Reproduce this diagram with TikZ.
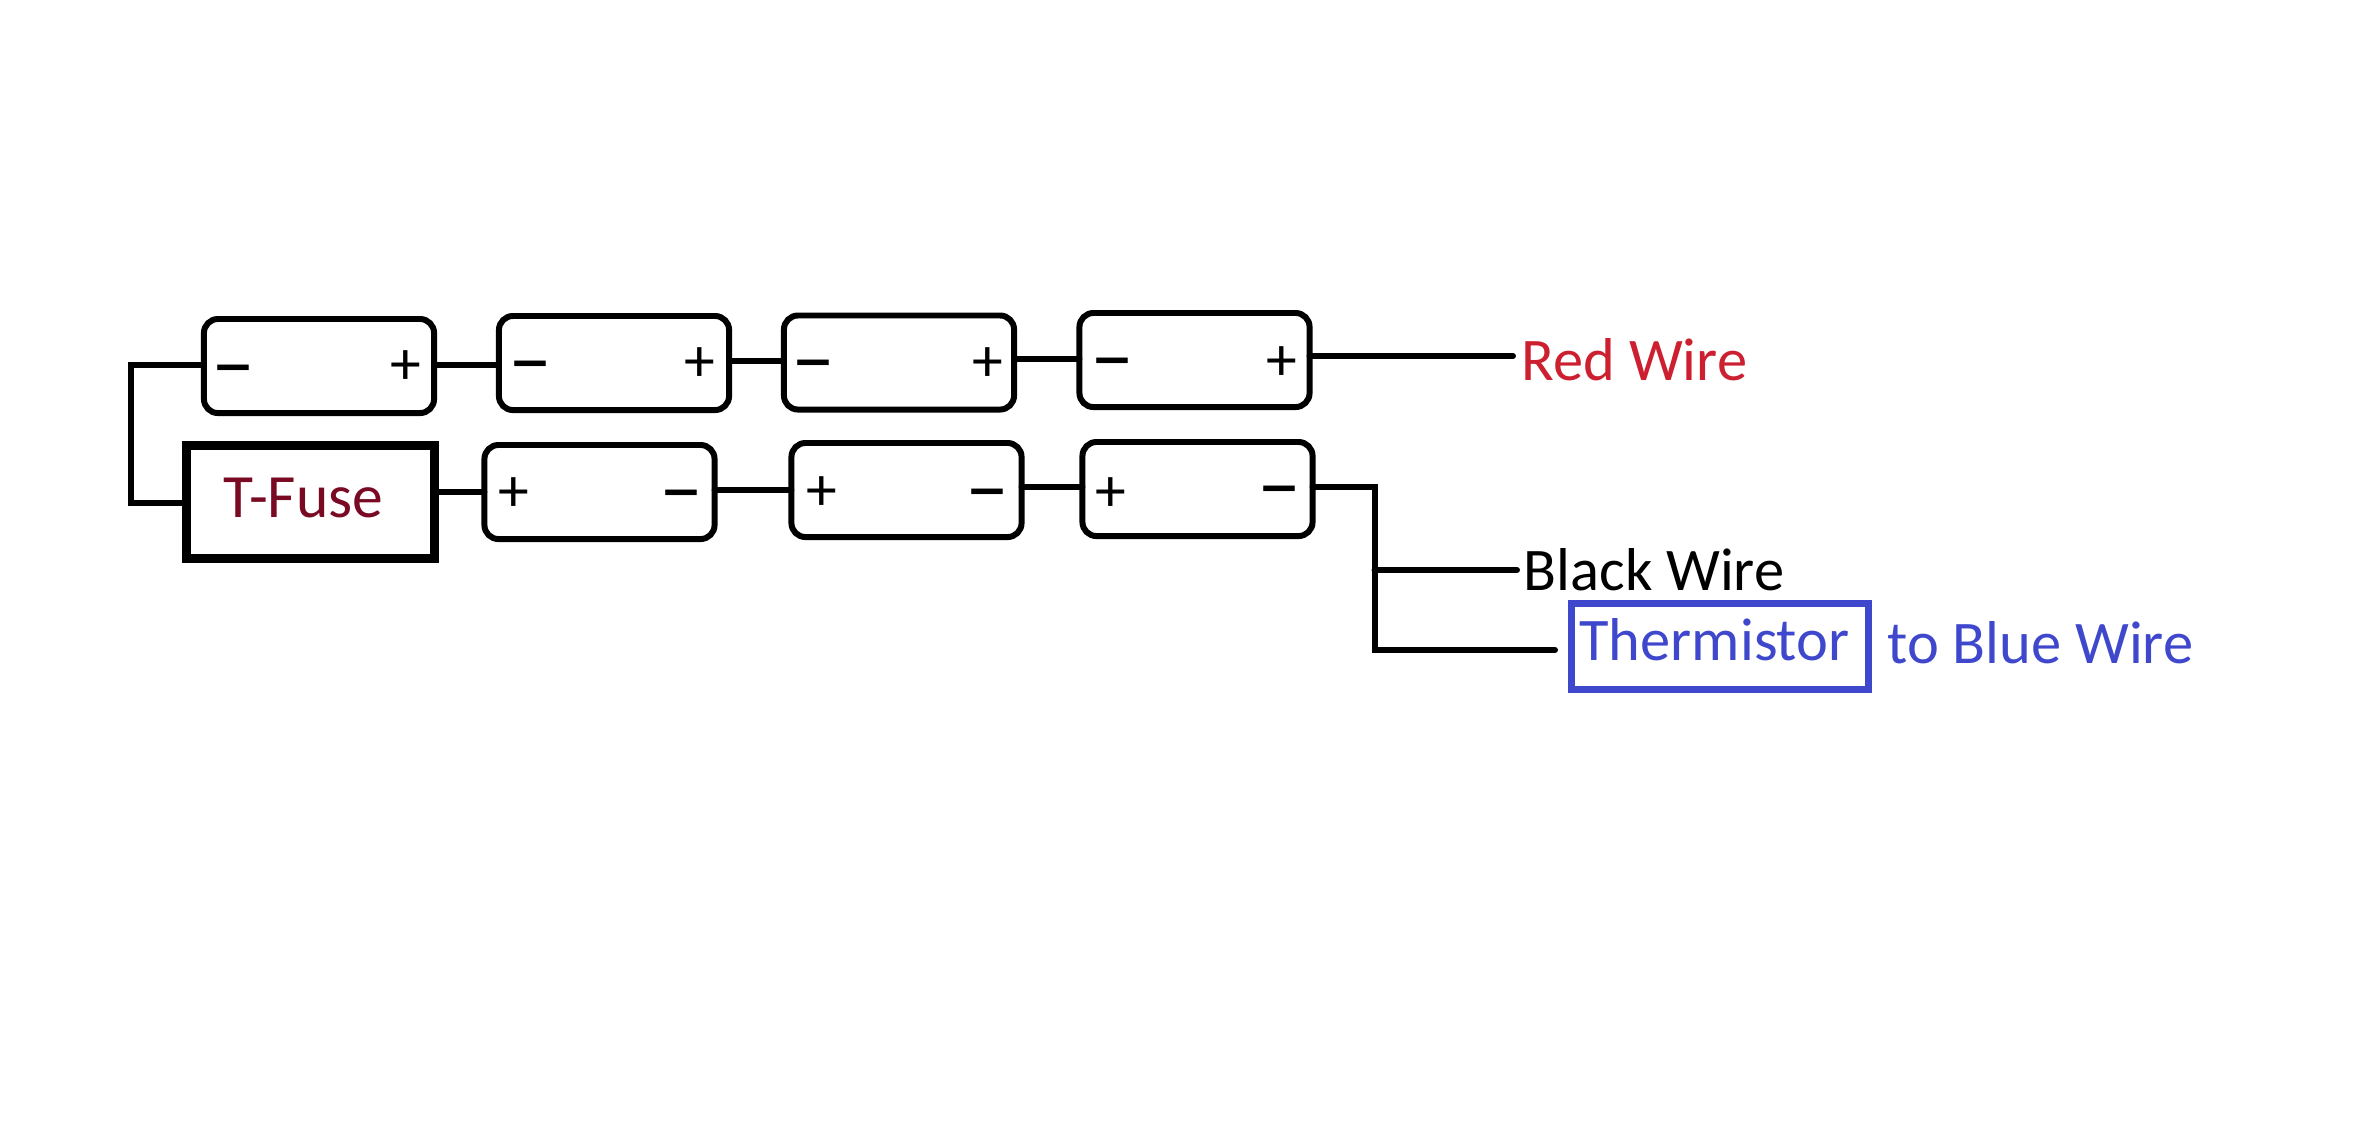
\documentclass[tikz,border=0pt]{standalone}
\usepackage{fontspec}
\setmainfont{Carlito}
\usepackage{tikz}
\definecolor{fusered}{HTML}{7A0A24}
\definecolor{wirered}{HTML}{CC2030}
\definecolor{thermblue}{HTML}{3F48CC}
\tikzstyle{wire} = [line width=1.7pt,line cap=round]

\begin{document}
\begin{tikzpicture}[
  x=0.01cm, y=-0.01cm,
  cell/.style={rectangle, draw, line width=1.7pt, rounded corners=0.14cm, minimum width=2.3cm, minimum height=0.94cm, inner sep=0pt, outer sep=0pt},
  sign/.style={inner sep=0pt, xshift=0.02cm, yshift=-0.03cm, font=\fontsize{17.5}{20}\selectfont},
  minus/.style={inner sep=0pt, yshift=-0.13cm, font=\fontsize{24}{26}\selectfont},
  fuse/.style={rectangle, draw, line width=2.5pt, minimum width=2.48cm, text height=0.715cm, text depth=0.415cm, inner sep=0pt, outer sep=0pt, text=fusered, font=\fontsize{17.5}{20}\selectfont},
  therm/.style={rectangle, draw=thermblue, line width=2.2pt, minimum width=2.97cm, text height=0.565cm, text depth=0.295cm, inner sep=0pt, outer sep=0pt, text=thermblue, font=\fontsize{17.2}{20}\selectfont},
  tag/.style={anchor=base west, inner sep=0pt, font=\fontsize{17.2}{20}\selectfont}
]
\useasboundingbox (0,0) rectangle (2376,1135);

% Top row of cells
\node[cell] (a1) at (319,366) {};
\node[cell] (a2) at (614,363) {};
\node[cell] (a3) at (899,362.5) {};
\node[cell] (a4) at (1194.5,360) {};

% Bottom row of cells, fuse first
\node[fuse] (tfuse) at (310.5,502) {T-Fuse\kern0.14cm};
\node[cell] (b1) at (599.5,492) {};
\node[cell] (b2) at (906.5,490) {};
\node[cell] (b3) at (1197.5,489) {};

% Polarity marks
\node[minus] (a1m) at (234,367) {−};
\node[sign] (a1p) at (404,365) {+};
\node[minus] (a2m) at (531,363) {−};
\node[sign] (a2p) at (698,362) {+};
\node[minus] (a3m) at (814,362) {−};
\node[sign] (a3p) at (986,362) {+};
\node[minus] (a4m) at (1113,360) {−};
\node[sign] (a4p) at (1280,361) {+};
\node[sign] (b1p) at (512,492) {+};
\node[minus] (b1m) at (682,492) {−};
\node[sign] (b2p) at (820,491) {+};
\node[minus] (b2m) at (988,491) {−};
\node[sign] (b3p) at (1109,492) {+};
\node[minus] (b3m) at (1279,488) {−};

% Wire ends
\node[tag, text=wirered] (redwire) at (1521,380) {Red Wire};
\node[tag] (blackwire) at (1523,590) {Black Wire};
\node[therm] (thermistor) at (1720,646.5) {Thermistor\kern0.11cm};
\node[tag, text=thermblue] (bluewire) at (1887,663) {to Blue Wire};
\coordinate (leftbus) at (131,365);
\coordinate (rightbus) at (1374.5,487);
\coordinate (thermend) at (1555,650);

% Series links, top row
\draw[wire] (a1.west |- leftbus) -- (leftbus) -- (leftbus |- 0,503) -- (tfuse.west |- 0,503);
\draw[wire] (a1.east |- 0,365) -- (a2.west |- 0,365);
\draw[wire] (a2.east |- 0,361) -- (a3.west |- 0,361);
\draw[wire] (a3.east |- 0,359) -- (a4.west |- 0,359);
\draw[wire, shorten >=0.08cm] (a4.east |- 0,356) -- (redwire.west |- 0,356);

% Series links, bottom row
\draw[wire] (tfuse.east |- 0,492) -- (b1.west |- 0,492);
\draw[wire] (b1.east |- 0,490) -- (b2.west |- 0,490);
\draw[wire] (b2.east |- 0,487) -- (b3.west |- 0,487);
\draw[wire] (b3.east |- rightbus) -- (rightbus) -- (rightbus |- thermend) -- (thermend);
\draw[wire, shorten >=0.06cm] (rightbus |- 0,570) -- (blackwire.west |- 0,570);
\end{tikzpicture}
\end{document}
